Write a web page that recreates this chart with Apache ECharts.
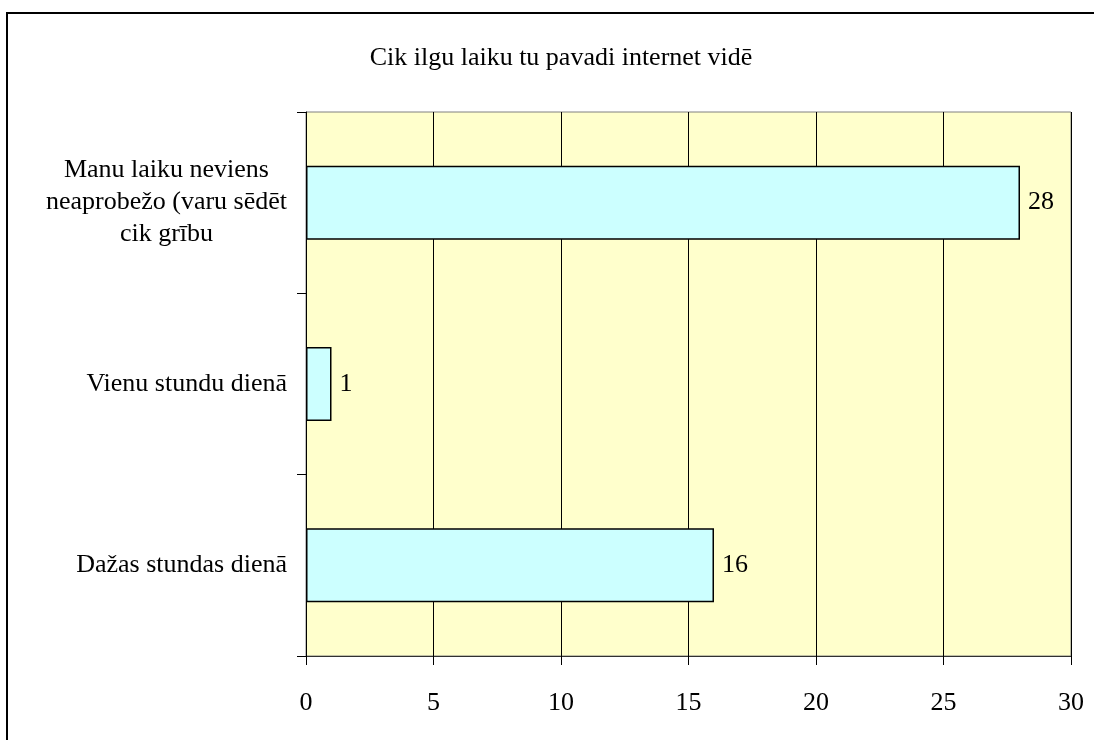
<!DOCTYPE html>
<html>
<head>
<meta charset="utf-8">
<style>
html,body{margin:0;padding:0;background:#fff;}
#chart{width:1094px;height:740px;}
</style>
<script src="https://cdn.jsdelivr.net/npm/echarts@6/dist/echarts.min.js"></script>
</head>
<body>
<div id="chart"></div>
<script>
const titleText = 'Cik ilgu laiku tu pavadi internet vidē';
const categories = ['Manu laiku neviens\nneaprobežo (varu sēdēt\ncik grību', 'Vienu stundu dienā', 'Dažas stundas dienā'];
const values = [28, 1, 16];
const xTicks = [0, 5, 10, 15, 20, 25, 30];

const FONT = "'Liberation Serif', 'Times New Roman', serif";
const FS = 26;
const chart = echarts.init(document.getElementById('chart'), null, {renderer: 'canvas'});
chart.setOption({
  animation: false,
  backgroundColor: '#ffffff',
  title: {
    text: titleText,
    left: 556, top: 40, textAlign: 'center',
    textStyle: {fontFamily: FONT, fontSize: FS, fontWeight: 'normal', color: '#000'}
  },
  graphic: [{
    type: 'rect', x: 0, y: 0, z: 100, silent: true,
    shape: {x: 7, y: 13, width: 1120, height: 800},
    style: {fill: 'none', stroke: '#000', lineWidth: 2}
  }],
  grid: {
    left: 306, top: 112, right: 23, bottom: 84,
    show: true, backgroundColor: '#FFFFCC', borderColor: '#808080', borderWidth: 1
  },
  xAxis: {
    type: 'value', min: xTicks[0], max: xTicks[xTicks.length - 1], interval: 5,
    axisLine: {show: true, lineStyle: {color: '#303030', width: 1}},
    axisTick: {show: true, length: 9, lineStyle: {color: '#000'}},
    splitLine: {show: true, lineStyle: {color: '#000', width: 1}},
    axisLabel: {fontFamily: FONT, fontSize: FS, color: '#000', margin: 34}
  },
  yAxis: {
    type: 'category', data: categories, inverse: true,
    axisLine: {show: true, lineStyle: {color: '#000', width: 1}},
    axisTick: {show: true, length: 9, inside: false, lineStyle: {color: '#000'}},
    axisLabel: {
      fontFamily: FONT, fontSize: FS, color: '#000', margin: 19, lineHeight: 32,
      formatter: function (v) { return '{a|' + v.split('\n').join('}\n{a|') + '}'; },
      rich: {a: {fontFamily: FONT, fontSize: FS, color: '#000', align: 'center', lineHeight: 32}}
    }
  },
  series: [{
    type: 'bar', data: values, barWidth: 74,
    itemStyle: {color: '#CCFFFF', borderColor: '#000', borderWidth: 1.5},
    label: {show: true, position: 'right', distance: 8, fontFamily: FONT, fontSize: FS, color: '#000'}
  }]
});
</script>
</body>
</html>
